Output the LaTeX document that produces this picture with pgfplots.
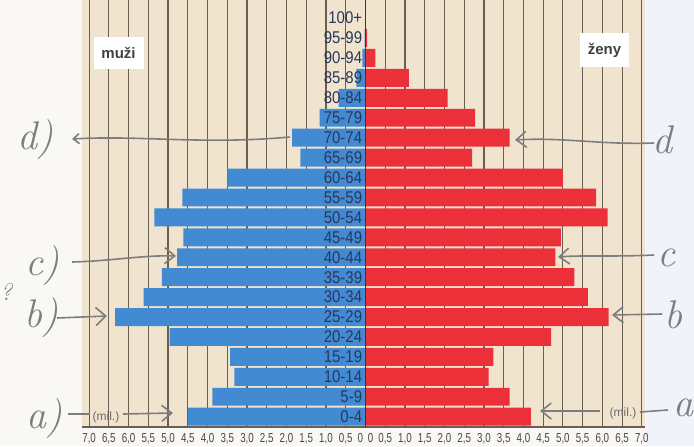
\documentclass[border=0pt]{standalone}
\usepackage{fontspec}
\newfontfamily\sansf{Liberation Sans}
\newfontfamily\tickf[FakeStretch=0.75]{Liberation Sans}
\newfontfamily\agef[FakeStretch=0.88]{Liberation Sans}
\usepackage{pgfplots}
\pgfplotsset{compat=1.18}
\usetikzlibrary{arrows.meta}
\definecolor{bluebar}{RGB}{66,138,210}
\definecolor{redbar}{RGB}{236,48,58}
\definecolor{beige}{RGB}{240,228,207}
\definecolor{gridc}{RGB}{105,95,85}
\definecolor{agec}{RGB}{42,55,92}
\definecolor{pencil}{RGB}{125,125,125}
\definecolor{pagec}{RGB}{249,248,245}
\definecolor{rightc}{RGB}{240,243,249}
\definecolor{tickc}{RGB}{75,70,65}
\begin{document}
\begin{tikzpicture}
\fill[pagec] (-41pt,-9.5pt) rectangle (306pt,213.5pt);
\fill[rightc] (282pt,-9.5pt) rectangle (306pt,213.5pt);
\begin{axis}[
  axis on top,
  scale only axis, width=281.5pt, height=213.5pt,
  at={(0pt,0pt)}, anchor=south west,
  xmin=-7.18, xmax=7.08, ymin=-0.517, ymax=20.908,
  xbar, bar width=0.9,
  axis x line=bottom, axis y line=center,
  x axis line style={-, draw=gridc, line width=0.6pt},
  y axis line style={-, draw=agec, line width=0.5pt},
  axis background/.style={fill=beige},
  xtick={-7,-6.5,-6,-5.5,-5,-4.5,-4,-3.5,-3,-2.5,-2,-1.5,-1,-0.5,0,0.5,1,1.5,2,2.5,3,3.5,4,4.5,5,5.5,6,6.5,7},
  xticklabels={{7,0},{6,5},{6,0},{5,5},{5,0},{4,5},{4,0},{3,5},{3,0},{2,5},{2,0},{1,5},{1,0},{0,5},{0\hspace{2.5pt}0},{0,5},{1,0},{1,5},{2,0},{2,5},{3,0},{3,5},{4,0},{4,5},{5,0},{5,5},{6,0},{6,5},{7,0}},
  major tick length=0pt,
  ytick={0,...,20},
  yticklabels={0-4,5-9,10-14,15-19,20-24,25-29,30-34,35-39,40-44,45-49,50-54,55-59,60-64,65-69,70-74,75-79,80-84,85-89,90-94,95-99,100+},
  hide obscured x ticks=false, hide obscured y ticks=false,
  xticklabel style={font=\tickf\fontsize{6.5}{7}\selectfont, text=tickc, inner sep=1pt, yshift=-2pt},
  yticklabel style={font=\agef\fontsize{8.5}{9}\selectfont, text=agec, inner sep=1pt, xshift=-0.5pt},
  clip=false,
]
\pgfplotsinvokeforeach{-7,-6.5,-6,-5.5,-5,-4.5,-4,-3.5,-3,-2.5,-2,-1.5,-1,-0.5,0.5,1,1.5,2,2.5,3,3.5,4,4.5,5,5.5,6,6.5,7}{
  \draw[gridc, line width=0.6pt] (axis cs:#1,-0.517) -- (axis cs:#1,20.908);
}
\addplot[fill=bluebar, draw=none, bar shift=0pt] coordinates {
(-4.49,0) (-3.88,1) (-3.32,2) (-3.43,3) (-4.96,4) (-6.34,5) (-5.62,6)
(-5.16,7) (-4.77,8) (-4.61,9) (-5.35,10) (-4.64,11) (-3.50,12) (-1.65,13)
(-1.86,14) (-1.16,15) (-0.68,16) (-0.23,17) (-0.08,18) (-0.02,19) (0,20)};
\addplot[fill=redbar, draw=none, bar shift=0pt] coordinates {
(4.19,0) (3.65,1) (3.12,2) (3.24,3) (4.70,4) (6.16,5) (5.63,6)
(5.29,7) (4.81,8) (4.95,9) (6.13,10) (5.84,11) (5.00,12) (2.70,13)
(3.65,14) (2.78,15) (2.08,16) (1.10,17) (0.25,18) (0.04,19) (0,20)};
\end{axis}
% labels
\node[fill=white, minimum width=25pt, minimum height=16pt, inner sep=0pt, font=\sansf\bfseries\fontsize{7.5}{8}\selectfont, text=black!75] at (18.25pt,187.25pt) {muži};
\node[fill=white, minimum width=24.5pt, minimum height=17pt, inner sep=0pt, font=\sansf\bfseries\fontsize{7.5}{8}\selectfont, text=black!75] at (261.25pt,188.5pt) {ženy};
\node[font=\sansf\fontsize{6}{7}\selectfont, text=tickc!80, inner sep=0.5pt] at (12pt,5pt) {(mil.)};
\node[font=\sansf\fontsize{6}{7}\selectfont, text=tickc!80, inner sep=0.5pt] at (270.5pt,7pt) {(mil.)};
% pencil annotations
\begin{scope}[pencil, line width=0.8pt, font=\itshape\fontsize{20}{20}\selectfont, text=pencil]
\node at (-23pt,143.5pt) {d)};
\draw[{Straight Barb[length=3pt,width=5pt]}-] (-5pt,144pt) .. controls (30pt,146pt) and (60pt,141pt) .. (104pt,145pt);
\node at (-19.5pt,80.5pt) {c)};
\draw[-{Straight Barb[length=5pt,width=8pt]}] (-5pt,82.5pt) .. controls (15pt,83pt) and (30pt,86pt) .. (47pt,85.5pt);
\node at (-20pt,54.5pt) {b)};
\draw[-{Straight Barb[length=5pt,width=9pt]}] (-12.5pt,54.5pt) -- (12.5pt,55.5pt);
\node at (-18.5pt,4pt) {a)};
\draw (-7pt,6.5pt) -- (4pt,6.5pt);
\draw[-{Straight Barb[length=5pt,width=8pt]}] (20.5pt,6.5pt) -- (45.5pt,7pt);
\node[font=\itshape\fontsize{12}{12}\selectfont] at (-38pt,67.5pt) {?};
\node at (290pt,143.5pt) {d};
\draw[-{Straight Barb[length=5pt,width=8pt]}] (286pt,142pt) .. controls (260pt,141pt) and (240pt,145pt) .. (216.5pt,143.5pt);
\node at (292pt,84.5pt) {c};
\draw[-{Straight Barb[length=5pt,width=8pt]}] (286pt,86pt) .. controls (265pt,85pt) and (250pt,86pt) .. (238pt,85pt);
\node at (295.5pt,56pt) {b};
\draw[-{Straight Barb[length=5pt,width=8pt]}] (290pt,56.5pt) -- (265pt,56pt);
\node at (300.5pt,9.5pt) {a};
\draw[-{Straight Barb[length=5pt,width=8pt]}] (259pt,8pt) -- (229pt,8pt);
\draw (279pt,7.5pt) -- (293pt,8.5pt);
\end{scope}
\pgfresetboundingbox
\path (-41pt,-9.5pt) rectangle (306pt,213.5pt);
\end{tikzpicture}
\end{document}
